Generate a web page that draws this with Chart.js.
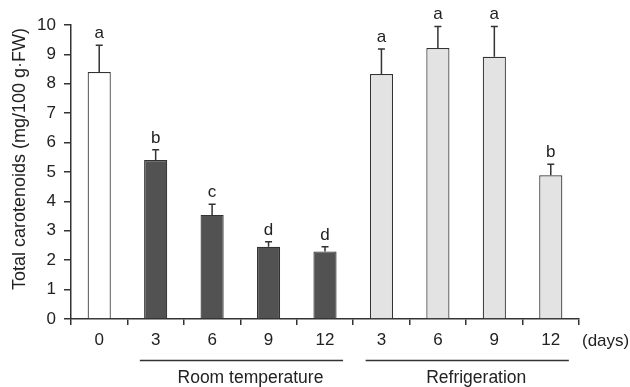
<!DOCTYPE html>
<html lang="en">
<head>
    <meta charset="UTF-8">
    <title>Total carotenoids</title>
    <script src="https://cdn.jsdelivr.net/npm/chart.js"></script>
    <style>
        body { margin: 0; background: #fff; }
    </style>
</head>
<body>
    <canvas id="caroChart" width="630" height="387"></canvas>

    <script>
        // storage days and values
        const days = ['0', '3', '6', '9', '12', '3', '6', '9', '12'];
        const means = [8.40, 5.41, 3.54, 2.46, 2.30, 8.33, 9.22, 8.92, 4.89];
        const sdUp = [0.91, 0.35, 0.36, 0.17, 0.16, 0.85, 0.73, 1.03, 0.37];
        const letters = ['a', 'b', 'c', 'd', 'd', 'a', 'a', 'a', 'b'];
        const barColors = ['#ffffff', '#525252', '#525252', '#525252', '#525252',
                           '#e3e3e3', '#e3e3e3', '#e3e3e3', '#e3e3e3'];
        const groupNames = ['Room temperature', 'Refrigeration'];
        const groupFirst = [1, 5];
        const groupLast = [4, 8];
        const yTicks = [0, 1, 2, 3, 4, 5, 6, 7, 8, 9, 10];

        const FONT = '"Liberation Sans", Arial, sans-serif';
        const INK = '#222';

        const extras = {
            id: 'extras',
            afterDatasetsDraw(chart) {
                const ctx = chart.ctx;
                const x = chart.scales.x;
                const y = chart.scales.y;
                const step = x.getPixelForValue(1) - x.getPixelForValue(0);

                ctx.save();
                // error bars (upper only) and letters
                ctx.strokeStyle = '#333';
                ctx.lineWidth = 1.5;
                ctx.fillStyle = INK;
                ctx.font = '17px ' + FONT;
                ctx.textAlign = 'center';
                ctx.textBaseline = 'alphabetic';
                means.forEach((m, i) => {
                    const cx = x.getPixelForValue(i);
                    const top = y.getPixelForValue(m);
                    const errTop = y.getPixelForValue(m + sdUp[i]);
                    ctx.beginPath();
                    ctx.moveTo(cx, top);
                    ctx.lineTo(cx, errTop);
                    ctx.moveTo(cx - 3.5, errTop);
                    ctx.lineTo(cx + 3.5, errTop);
                    ctx.stroke();
                    ctx.fillText(letters[i], cx, errTop - 7);
                });

                // group lines and names
                ctx.lineWidth = 1.5;
                ctx.font = '17.5px ' + FONT;
                groupNames.forEach((name, g) => {
                    const x1 = x.getPixelForValue(groupFirst[g]) - 0.28 * step;
                    const x2 = x.getPixelForValue(groupLast[g]) + 0.32 * step;
                    ctx.beginPath();
                    ctx.moveTo(x1, 360.5);
                    ctx.lineTo(x2, 360.5);
                    ctx.stroke();
                    ctx.textBaseline = 'middle';
                    ctx.fillText(name, (x1 + x2) / 2 + 9, 378);
                });

                // unit label after the last tick
                ctx.textAlign = 'left';
                ctx.textBaseline = 'middle';
                ctx.font = '17px ' + FONT;
                ctx.fillText('(days)', x.right + 3, 341);

                // y axis title
                ctx.font = '18px ' + FONT;
                ctx.translate(20, (y.top + y.bottom) / 2 - 13);
                ctx.rotate(-Math.PI / 2);
                ctx.textAlign = 'center';
                ctx.fillText('Total carotenoids (mg/100 g\u00b7FW)', 0, 0);
                ctx.restore();
            }
        };

        const ctx = document.getElementById('caroChart').getContext('2d');
        new Chart(ctx, {
            type: 'bar',
            data: {
                labels: days,
                datasets: [{
                    data: means,
                    backgroundColor: barColors,
                    borderColor: '#333',
                    borderWidth: 1.2,
                    barPercentage: 0.41,
                    categoryPercentage: 1
                }]
            },
            options: {
                responsive: false,
                animation: false,
                layout: { padding: { top: 25, right: 51, left: 0, bottom: 0 } },
                plugins: {
                    legend: { display: false },
                    tooltip: { enabled: false }
                },
                scales: {
                    x: {
                        grid: {
                            offset: true,
                            drawOnChartArea: false,
                            tickLength: 6,
                            color: '#333',
                            lineWidth: 1.5
                        },
                        border: { color: '#333', width: 1.5 },
                        ticks: {
                            color: INK,
                            font: { family: FONT, size: 17 },
                            padding: 5,
                            maxRotation: 0
                        },
                        afterFit(scale) { scale.height = 68; }
                    },
                    y: {
                        min: 0,
                        max: 10,
                        afterBuildTicks(scale) {
                            scale.ticks = yTicks.map(v => ({ value: v }));
                        },
                        grid: {
                            drawOnChartArea: false,
                            tickLength: 7,
                            color: '#333',
                            lineWidth: 1.5
                        },
                        border: { color: '#333', width: 1.5 },
                        ticks: {
                            color: INK,
                            font: { family: FONT, size: 17 },
                            padding: 8
                        },
                        afterFit(scale) { scale.width = 71; }
                    }
                }
            },
            plugins: [extras]
        });
    </script>
</body>
</html>
